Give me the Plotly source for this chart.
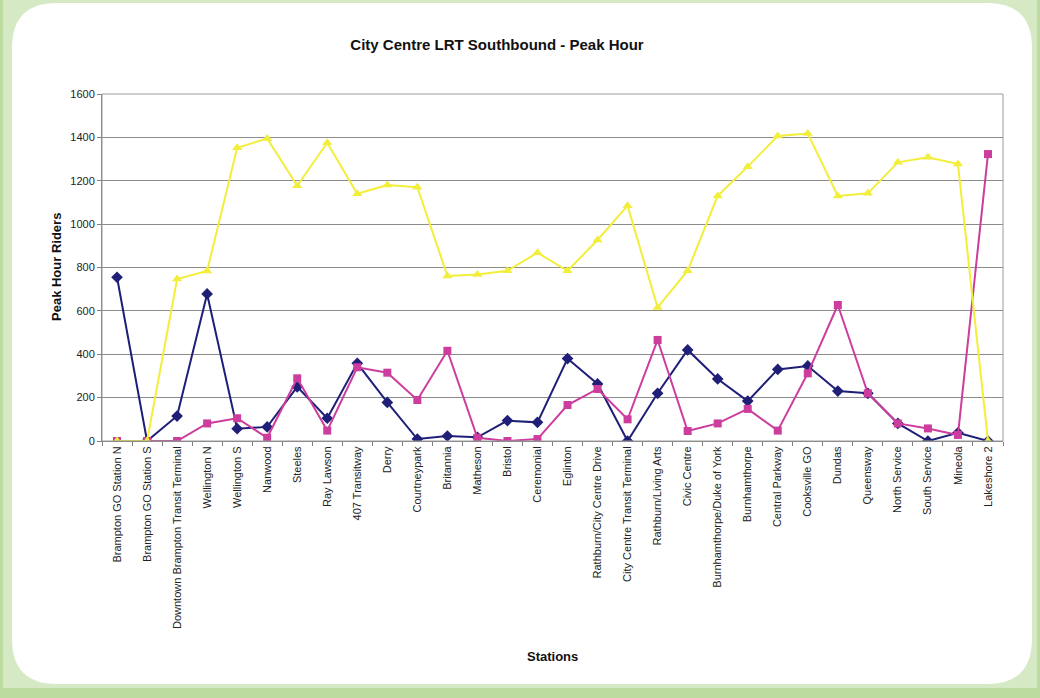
import plotly.graph_objects as go

stations = [
    "Brampton GO Station N", "Brampton GO Station S", "Downtown Brampton Transit Terminal",
    "Wellington N", "Wellington S", "Nanwood", "Steeles", "Ray Lawson", "407 Transitway",
    "Derry", "Courtneypark", "Britannia", "Matheson", "Bristol", "Ceremonial", "Eglinton",
    "Rathburn/City Centre Drive", "City Centre Transit Terminal", "Rathburn/Living Arts",
    "Civic Centre", "Burnhamthorpe/Duke of York", "Burnhamthorpe", "Central Parkway",
    "Cooksville GO", "Dundas", "Queensway", "North Service", "South Service", "Mineola",
    "Lakeshore 2",
]
navy_series = [755, 0, 115, 678, 57, 65, 250, 105, 358, 178,
               9, 23, 17, 94, 86, 380, 263, 0, 220, 420,
               286, 184, 330, 346, 230, 220, 81, 0, 38, 0]
magenta_series = [0, 0, 0, 81, 105, 15, 289, 48, 340, 315,
                  189, 416, 15, 0, 9, 166, 240, 100, 466, 46,
                  81, 148, 48, 312, 627, 220, 81, 58, 28, 1323]
yellow_series = [0, 0, 747, 784, 1352, 1395, 1177, 1375, 1140, 1180,
                 1170, 761, 768, 785, 868, 785, 927, 1085, 616, 785,
                 1130, 1265, 1406, 1418, 1130, 1142, 1285, 1308, 1277, 0]
y_ticks = [0, 200, 400, 600, 800, 1000, 1200, 1400, 1600]

W, H = 1040, 698
L, R, T, B = 102, 1003, 94, 441
pw, ph = R - L, B - T

def px(x):
    return (x - L) / pw

def py(y):
    return (B - y) / ph

fig = go.Figure()
fig.add_trace(go.Scatter(x=stations, y=navy_series, mode="lines+markers", name="Series 1",
                         line=dict(color="#1f1f78", width=2),
                         marker=dict(symbol="diamond", size=9, color="#1f1f78")))
fig.add_trace(go.Scatter(x=stations, y=magenta_series, mode="lines+markers", name="Series 2",
                         line=dict(color="#cc3d9e", width=2),
                         marker=dict(symbol="square", size=8, color="#cc3d9e")))
fig.add_trace(go.Scatter(x=stations, y=yellow_series, mode="lines+markers", name="Series 3",
                         line=dict(color="#f2ee3a", width=2),
                         marker=dict(symbol="triangle-up", size=9, color="#f2ee3a")))

def rounded_rect(x0, y0, x1, y1, r):
    return (f"M {px(x0 + r)},{py(y0)} L {px(x1 - r)},{py(y0)} "
            f"Q {px(x1)},{py(y0)} {px(x1)},{py(y0 + r)} "
            f"L {px(x1)},{py(y1 - r)} Q {px(x1)},{py(y1)} {px(x1 - r)},{py(y1)} "
            f"L {px(x0 + r)},{py(y1)} Q {px(x0)},{py(y1)} {px(x0)},{py(y1 - r)} "
            f"L {px(x0)},{py(y0 + r)} Q {px(x0)},{py(y0)} {px(x0 + r)},{py(y0)} Z")

shapes = [
    dict(type="rect", xref="paper", yref="paper", x0=px(0), x1=px(W), y0=py(688), y1=py(H),
         fillcolor="#bcdb9f", line=dict(width=0), layer="below"),
    dict(type="rect", xref="paper", yref="paper", x0=px(1037), x1=px(W), y0=py(0), y1=py(H),
         fillcolor="#bcdb9f", line=dict(width=0), layer="below"),
    dict(type="rect", xref="paper", yref="paper", x0=px(0), x1=px(3), y0=py(0), y1=py(H),
         fillcolor="#bcdb9f", line=dict(width=0), layer="below"),
    dict(type="path", xref="paper", yref="paper", path=rounded_rect(12, 3, 1032, 684, 45),
         fillcolor="#ffffff", line=dict(width=0), layer="below"),
]

annotations = [
    dict(text="<b>Peak Hour Riders</b>", xref="paper", yref="paper", x=px(56), y=py(267),
         textangle=-90, showarrow=False, xanchor="center", yanchor="middle",
         font=dict(family="Liberation Sans, Arial", size=13, color="#111111")),
    dict(text="<b>Stations</b>", xref="paper", yref="paper", x=px(552), y=py(656),
         showarrow=False, xanchor="center", yanchor="middle",
         font=dict(family="Liberation Sans, Arial", size=13, color="#111111")),
]

fig.update_layout(
    width=W, height=H,
    margin=dict(l=L, r=W - R, t=T, b=H - B, pad=0, autoexpand=False),
    paper_bgcolor="#d6e9c5",
    plot_bgcolor="#c8c8c8",
    showlegend=False,
    title=dict(text="<b>City Centre LRT Southbound - Peak Hour</b>", x=px(497), xref="paper",
               xanchor="center", y=1 - 45 / H, yanchor="middle",
               font=dict(family="Liberation Sans, Arial", size=15, color="#111111")),
    shapes=shapes,
    annotations=annotations,
    font=dict(family="Liberation Sans, Arial", size=11, color="#222222"),
)
fig.update_xaxes(type="category", categoryorder="array", categoryarray=stations,
                 range=[-0.5, len(stations) - 0.5],
                 tickangle=-90, showgrid=False, showline=True, linecolor="#808080", linewidth=1,
                 ticks="outside", tickson="boundaries", ticklen=4, tickcolor="#808080",
                 tickfont=dict(size=11, color="#222222"), mirror=False, zeroline=False,
                 automargin=False)
fig.update_yaxes(range=[0, 1600], tickvals=y_ticks, showgrid=True, gridcolor="#8c8c8c",
                 gridwidth=1, showline=True, linecolor="#808080", linewidth=1,
                 ticks="outside", ticklen=4, tickcolor="#808080", zeroline=False,
                 tickfont=dict(size=11, color="#222222"), automargin=False)
fig.add_shape(type="rect", xref="paper", yref="paper", x0=0, x1=1, y0=0, y1=1,
              line=dict(color="#9a9a9a", width=1))

fig.write_html("out.html", config={"displayModeBar": False},
               post_script="document.body.style.margin='0';document.body.style.overflow='hidden';")
